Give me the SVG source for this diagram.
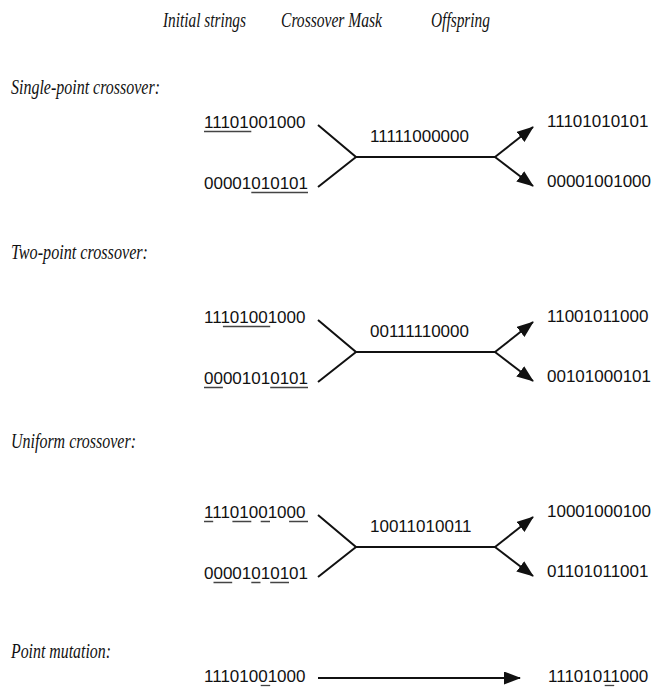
<svg xmlns="http://www.w3.org/2000/svg" width="664" height="689" viewBox="0 0 664 689">
<style>
.hdr{font-family:"Liberation Serif","Times New Roman",serif;font-style:italic;font-size:20px;fill:#111}
.bits{font-family:"Liberation Sans",Arial,sans-serif;font-size:17px;fill:#111}
.ul{stroke:#444;stroke-width:1.3;fill:none}
.con{stroke:#111;stroke-width:2;fill:none}
</style>
<defs>
<marker id="ah" markerUnits="userSpaceOnUse" markerWidth="18" markerHeight="14" refX="16" refY="6.5" orient="auto">
<path d="M0,0 L17,6.5 L0,13 z" fill="#111"/>
</marker>
</defs>
<rect width="664" height="689" fill="#fff"/>

<g id="headers">
<text class="hdr" x="163" y="27" textLength="83" lengthAdjust="spacingAndGlyphs">Initial strings</text>
<text class="hdr" x="281" y="27" textLength="101" lengthAdjust="spacingAndGlyphs">Crossover Mask</text>
<text class="hdr" x="431" y="27" textLength="59" lengthAdjust="spacingAndGlyphs">Offspring</text>
</g>

<g id="label-single"><text class="hdr" x="11" y="94" textLength="149" lengthAdjust="spacingAndGlyphs">Single-point crossover:</text></g>
<g id="label-two"><text class="hdr" x="11" y="259" textLength="137" lengthAdjust="spacingAndGlyphs">Two-point crossover:</text></g>
<g id="label-uniform"><text class="hdr" x="11" y="448" textLength="125" lengthAdjust="spacingAndGlyphs">Uniform crossover:</text></g>
<g id="label-mutation"><text class="hdr" x="11" y="658" textLength="100" lengthAdjust="spacingAndGlyphs">Point mutation:</text></g>

<!-- Section 1 -->
<g id="s1-parent1"><text class="bits" x="204" y="128">11101001000</text><path class="ul" d="M204,131.5H251.3"/></g>
<g id="s1-parent2"><text class="bits" x="204" y="189">00001010101</text><path class="ul" d="M251.3,192.5H308"/></g>
<g id="s1-mask"><text class="bits" x="370" y="142">11111000000</text></g>
<g id="s1-child1"><text class="bits" x="547" y="127">11101010101</text></g>
<g id="s1-child2"><text class="bits" x="547" y="187">00001001000</text></g>

<!-- Section 2 -->
<g id="s2-parent1"><text class="bits" x="204" y="323">11101001000</text><path class="ul" d="M222.9,326.5H270.2"/></g>
<g id="s2-parent2"><text class="bits" x="204" y="384">00001010101</text><path class="ul" d="M204,387.5H222.9M270.2,387.5H308"/></g>
<g id="s2-mask"><text class="bits" x="370" y="337">00111110000</text></g>
<g id="s2-child1"><text class="bits" x="547" y="322">11001011000</text></g>
<g id="s2-child2"><text class="bits" x="547" y="382">00101000101</text></g>

<!-- Section 3 -->
<g id="s3-parent1"><text class="bits" x="204" y="518">11101001000</text><path class="ul" d="M204,521.5H213.2M232.4,521.5H251.3M260.7,521.5H270M289.1,521.5H308"/></g>
<g id="s3-parent2"><text class="bits" x="204" y="579">00001010101</text><path class="ul" d="M213.5,582.5H232.2M251.3,582.5H260.5M270.2,582.5H289"/></g>
<g id="s3-mask"><text class="bits" x="370" y="532">10011010011</text></g>
<g id="s3-child1"><text class="bits" x="547" y="517">10001000100</text></g>
<g id="s3-child2"><text class="bits" x="547" y="577">01101011001</text></g>

<!-- Mutation -->
<g id="m-parent"><text class="bits" x="204" y="682">11101001000</text><path class="ul" d="M260.7,685.5H270.2"/></g>
<g id="m-child"><text class="bits" x="548" y="682">11101011000</text><path class="ul" d="M604.7,685.5H614.2"/></g>

<g id="connectors">
<path class="con" d="M318,125L356,157L318,187M356,157H495"/>
<path class="con" d="M495,157L533,127" marker-end="url(#ah)"/>
<path class="con" d="M495,157L533,186" marker-end="url(#ah)"/>

<path class="con" d="M318,320L356,352L318,382M356,352H495"/>
<path class="con" d="M495,352L533,322" marker-end="url(#ah)"/>
<path class="con" d="M495,352L533,381" marker-end="url(#ah)"/>

<path class="con" d="M318,515L356,547L318,577M356,547H495"/>
<path class="con" d="M495,547L533,517" marker-end="url(#ah)"/>
<path class="con" d="M495,547L533,576" marker-end="url(#ah)"/>

<path class="con" d="M318,678H520" marker-end="url(#ah)"/>
</g>
</svg>
